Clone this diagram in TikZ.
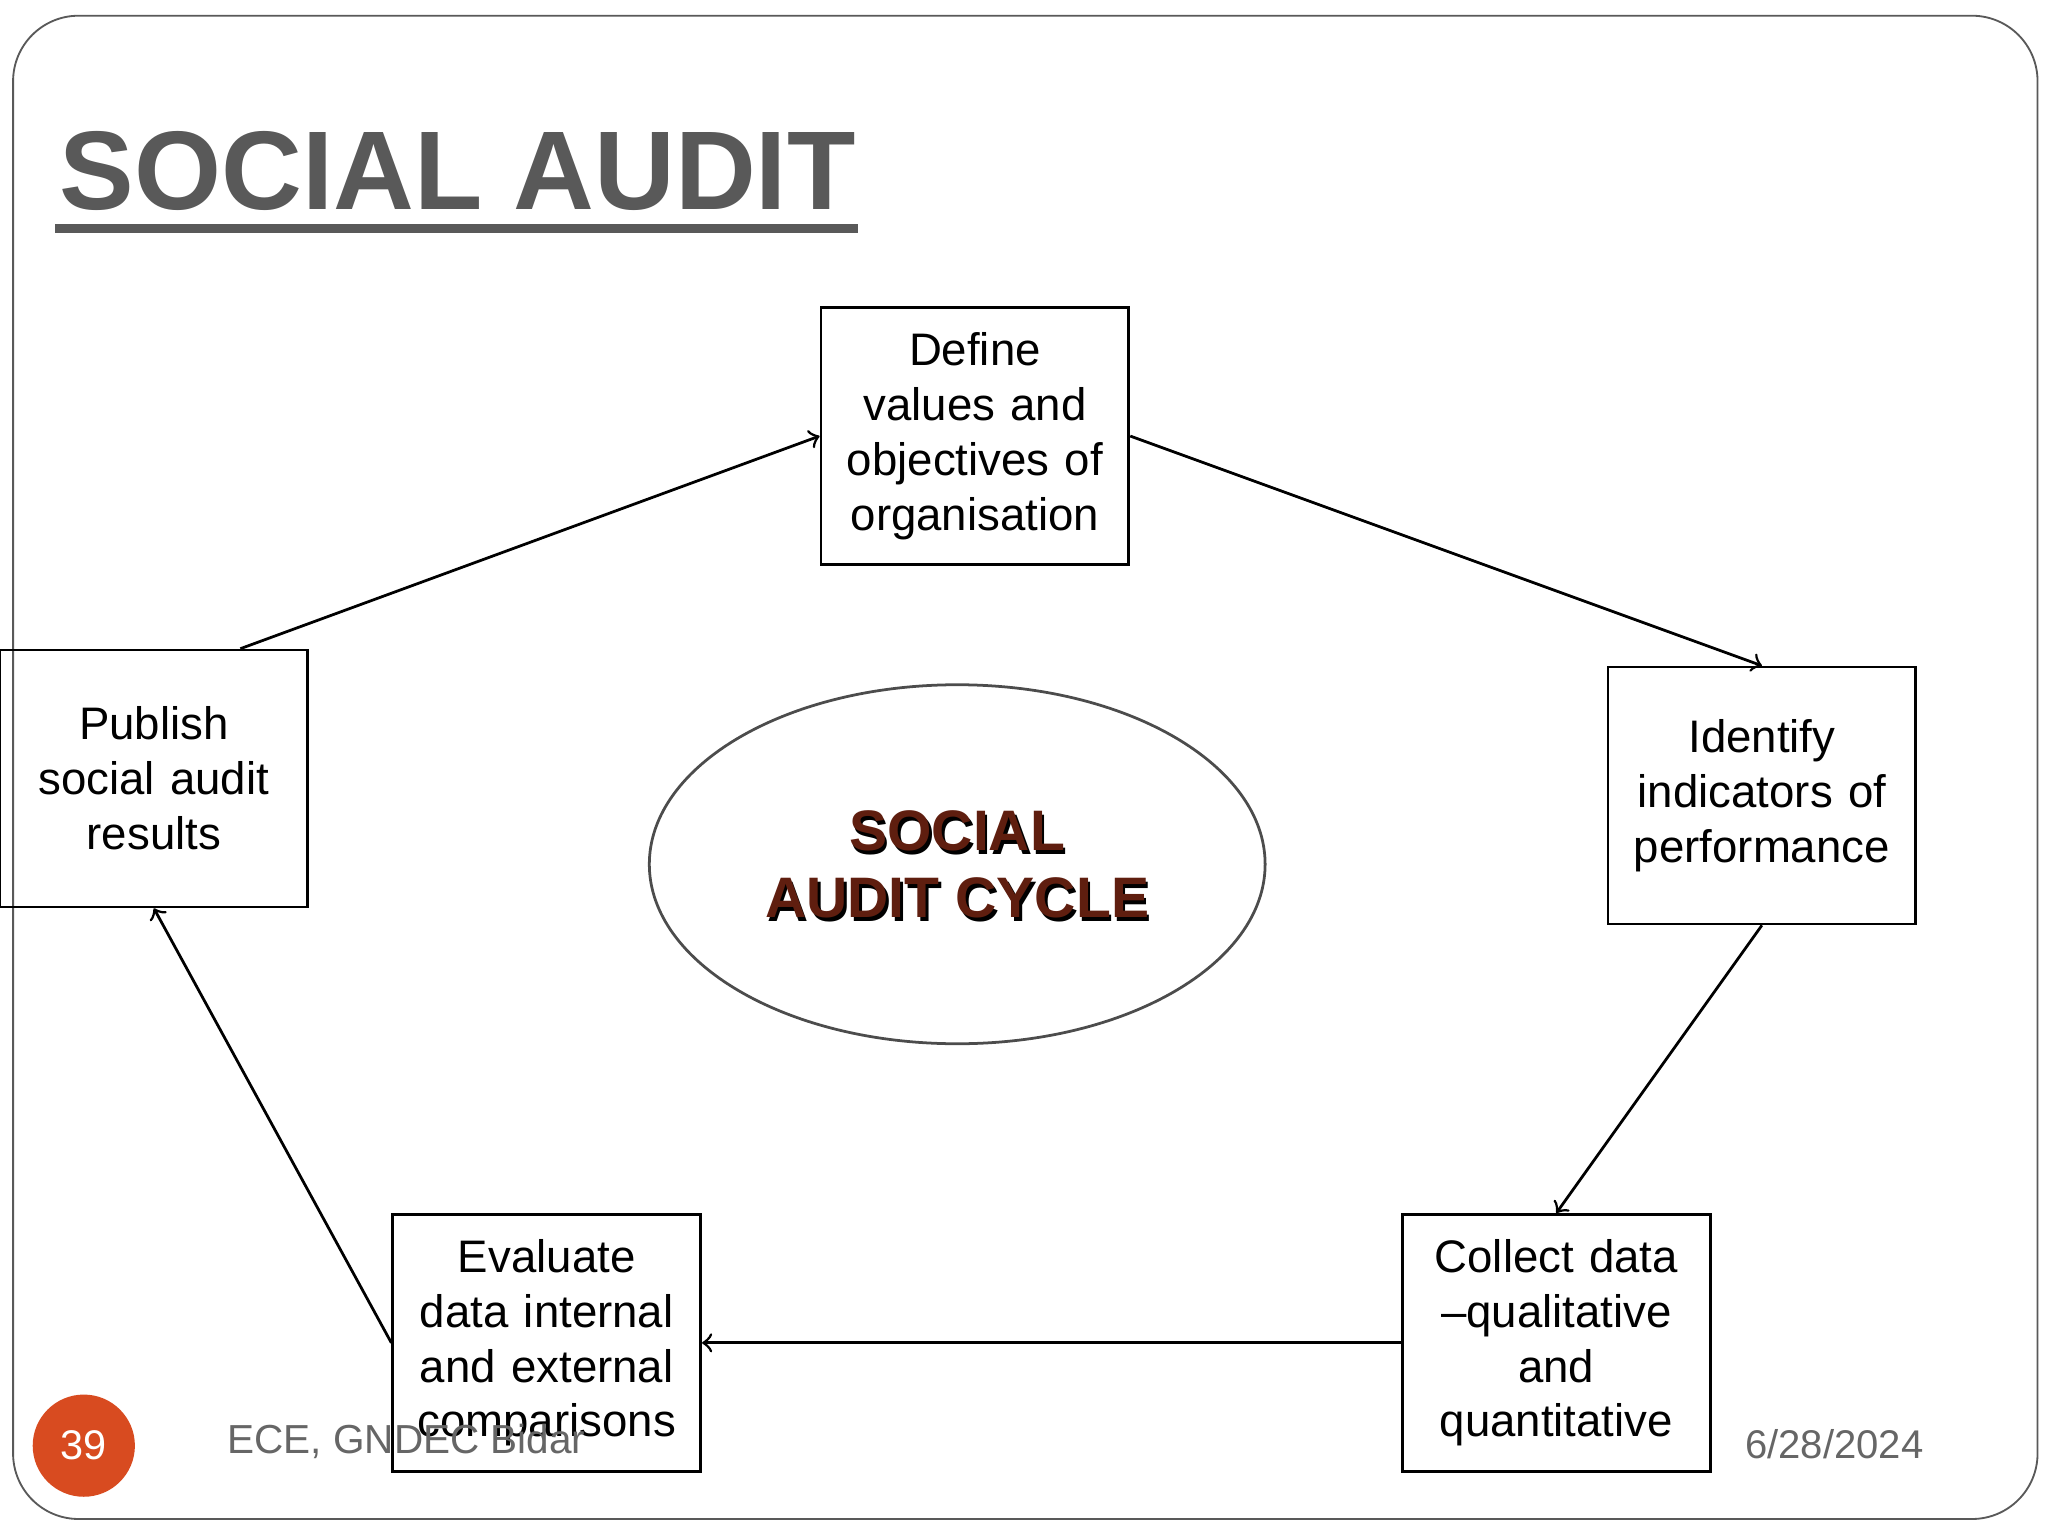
\documentclass[tikz,border=0pt]{standalone}
\usepackage{fontspec}
\setmainfont{Liberation Sans}
\usetikzlibrary{shapes.geometric}
\begin{document}
\begin{tikzpicture}[x=0.01cm,y=-0.01cm,
  stepbox/.style={draw,semithick,minimum width=2.35cm,minimum height=1.96cm,inner sep=0pt,align=center,font=\fontsize{9.9pt}{11.9pt}\selectfont,text width=2.25cm},
  conn/.style={semithick,->}]
\useasboundingbox (0,0) rectangle (1564,1170);
\draw[gray!70!black,thin,rounded corners=0.5cm] (10,12) rectangle (1556,1160);
\node[anchor=base west,inner sep=0pt,text=black!65,font=\fontsize{24.3pt}{26pt}\selectfont\bfseries] (title) at (45,160) {SOCIAL AUDIT};
\fill[black!65] (42,171) rectangle (655,178);
\node[stepbox] (def) at (744.5,333) {Define\\values and\\objectives of\\organisation};
\node[stepbox] (ide) at (1345.5,607.5) {Identify\\indicators of\\performance};
\node[stepbox] (col) at (1188.5,1025.5) {Collect data\\--qualitative\\and\\quantitative};
\node[stepbox] (eva) at (417.5,1025.5) {Evaluate\\data internal\\and external\\comparisons};
\node[stepbox] (pub) at (117.5,594.5) {Publish\\social audit\\results};
\node[draw=black!70,semithick,ellipse,minimum width=4.7cm,minimum height=2.74cm,inner sep=0pt] (ell) at (731,660) {};
\node[align=center,font=\fontsize{12.4pt}{14.5pt}\selectfont\bfseries,text=black] at (733,663) {SOCIAL\\AUDIT CYCLE};
\node[align=center,font=\fontsize{12.4pt}{14.5pt}\selectfont\bfseries,text={rgb,255:red,95;green,30;blue,15}] (cyc) at (731,660) {SOCIAL\\AUDIT CYCLE};
\draw[conn] ([xshift=0.66cm]pub.north) -- (def.west);
\draw[conn] (def.east) -- (ide.north);
\draw[conn] (ide.south) -- (col.north);
\draw[conn] (col.west) -- (eva.east);
\draw[conn] (eva.west) -- (pub.south);
\node[circle,fill={rgb,255:red,216;green,75;blue,32},minimum size=0.78cm,inner sep=0pt,text=white,font=\fontsize{9pt}{11pt}\selectfont] (num) at (64,1104) {39};
\node[anchor=base west,inner sep=0pt,text=black!60,font=\fontsize{8.8pt}{11pt}\selectfont] (foot) at (173,1110) {ECE, GNDEC Bidar};
\node[anchor=base west,inner sep=0pt,text=black!60,font=\fontsize{8.7pt}{11pt}\selectfont] (date) at (1332,1114) {6/28/2024};
\end{tikzpicture}
\end{document}
